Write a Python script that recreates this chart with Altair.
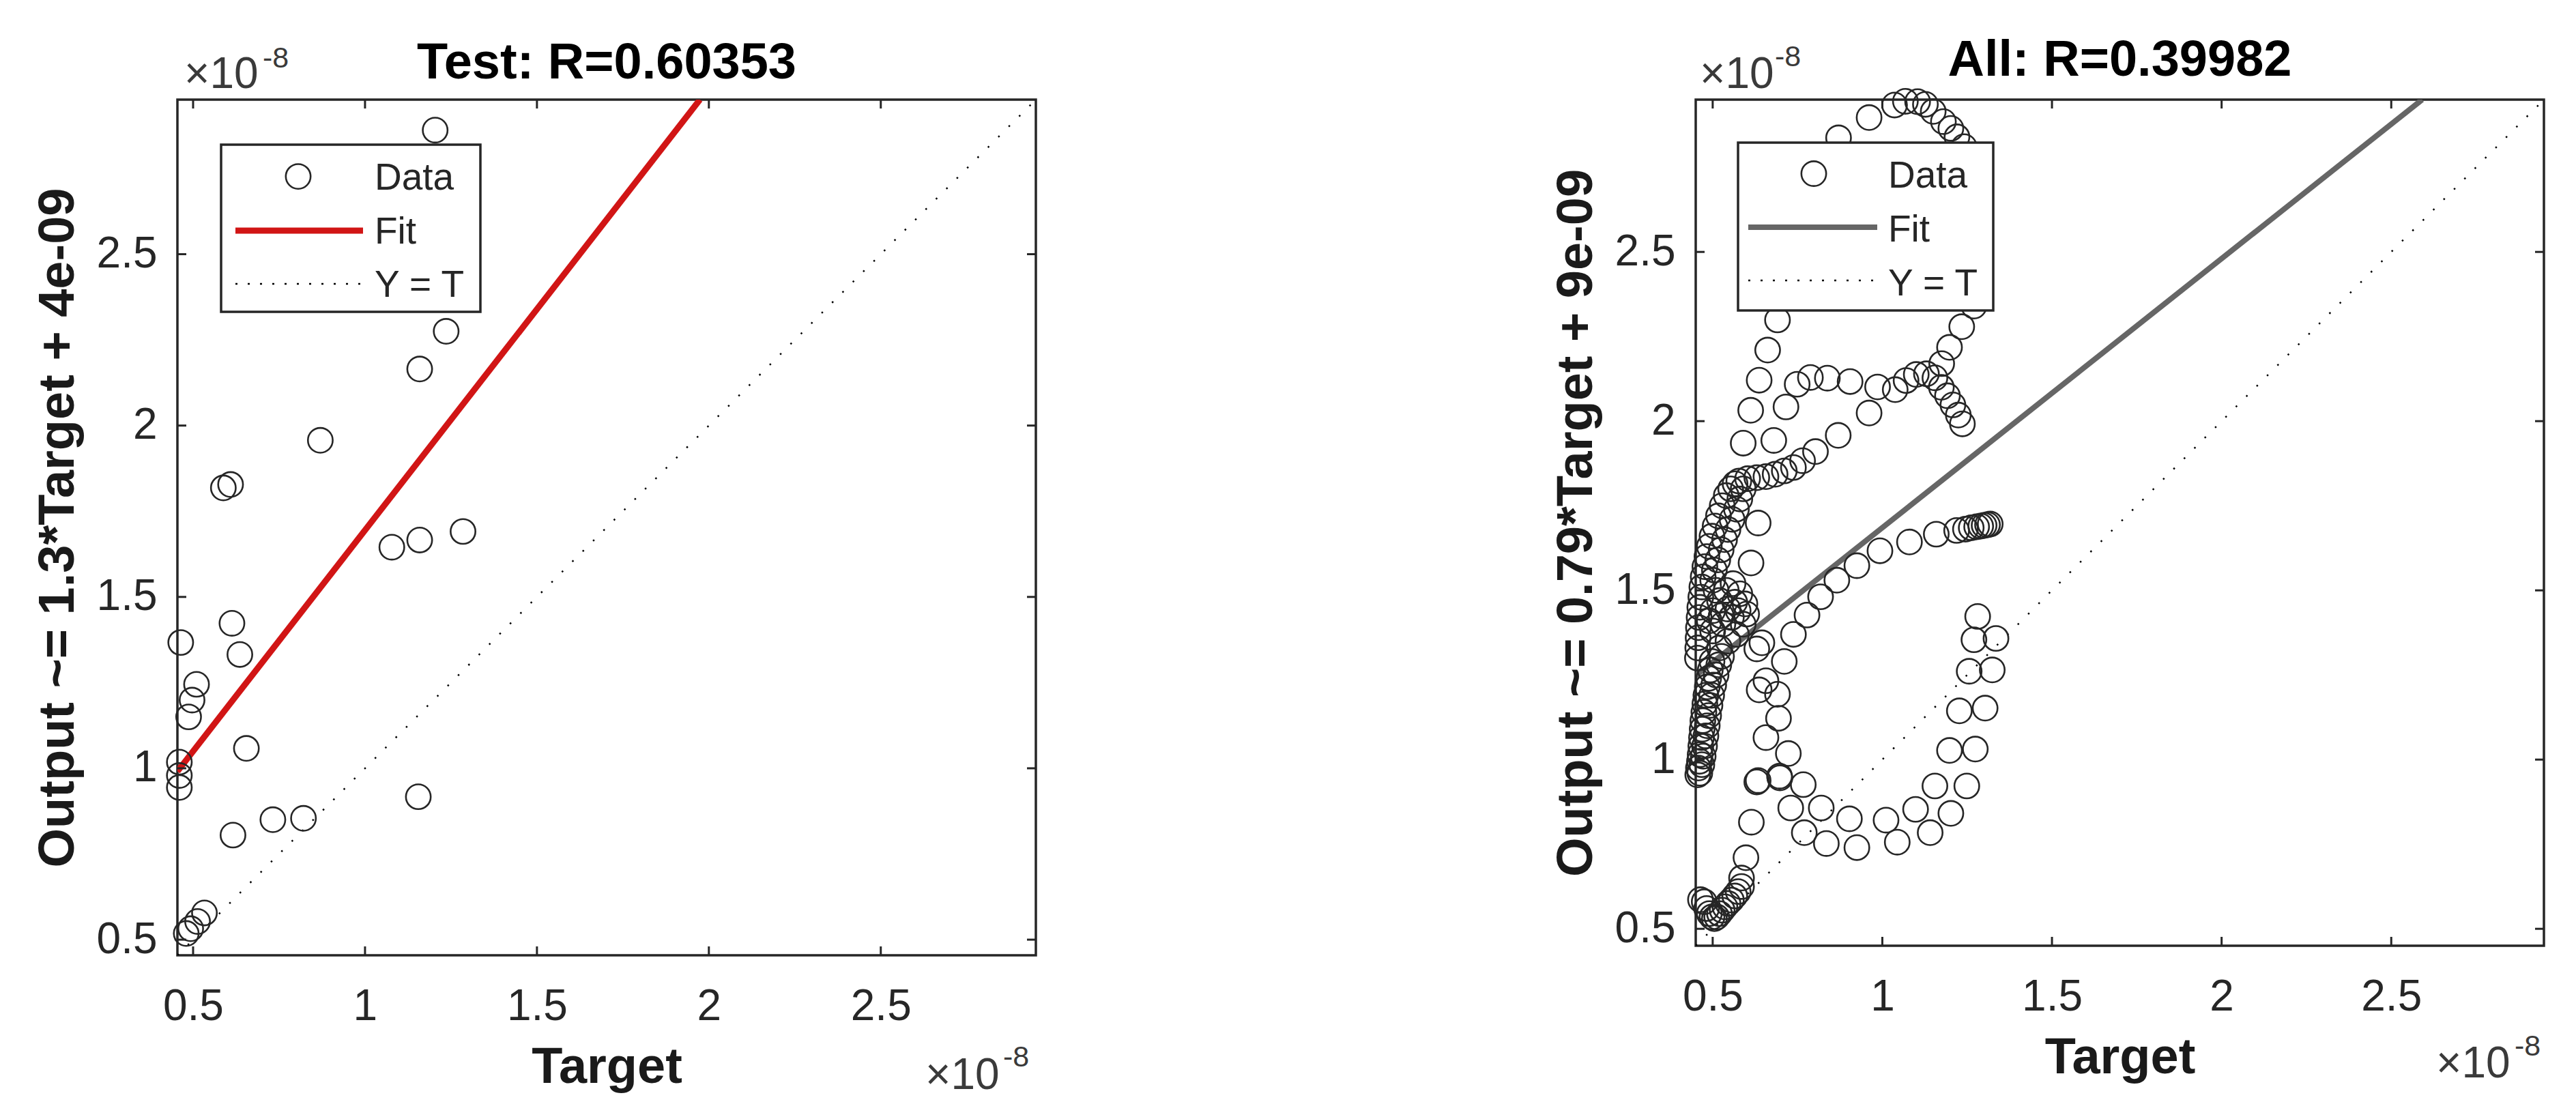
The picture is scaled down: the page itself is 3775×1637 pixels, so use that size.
import altair as alt
import pandas as pd

FONT = "Liberation Sans"
DARK = "#262626"
TICK_VALUES = [0.5, 1.0, 1.5, 2.0, 2.5]

# ---------------- Test panel (values in units of 1e-8) ----------------
test_target = [1.204, 1.236, 1.159, 0.870, 0.588, 0.609, 1.285, 1.159, 1.078,
               0.613, 0.636, 0.464, 0.510, 0.497, 0.487, 0.655, 0.460, 0.460,
               0.460, 0.616, 0.732, 0.821, 1.155, 0.533, 0.513, 0.493, 0.480]
test_output = [2.862, 2.275, 2.165, 1.957, 1.818, 1.828, 1.691, 1.666, 1.645,
               1.423, 1.332, 1.367, 1.245, 1.199, 1.150, 1.058, 1.018, 0.979,
               0.944, 0.805, 0.850, 0.854, 0.917, 0.578, 0.553, 0.532, 0.518]
test_fit_x = [0.4544, 1.974]
test_fit_y = [0.991, 2.951]
test_lim = [0.4544, 2.951]

# ---------------- All panel (values in units of 1e-8) ----------------
all_target = [
    # bottom-left cluster
    0.475, 0.482, 0.490, 0.498, 0.505, 0.512, 0.520, 0.528, 0.536, 0.545, 0.555,
    0.565, 0.575, 0.585, 0.464, 0.585, 0.598, 0.614,
    # lower arc
    0.630, 0.698, 0.767, 0.730, 0.820, 0.770, 0.835, 0.903, 0.925, 1.011, 1.044,
    1.098, 1.141, 1.155, 1.202, 1.249, 1.198, 1.274, 1.227, 1.303, 1.256, 1.324,
    1.270, 1.335, 1.281,
    # middle column
    0.657, 0.723, 0.694, 0.691, 0.637, 0.657, 0.630, 0.711, 0.645, 0.697, 0.634,
    # rising strand
    0.738, 0.778, 0.818, 0.866, 0.925, 0.993, 1.080, 1.159, 1.219, 1.245, 1.262,
    1.278, 1.290, 1.300, 1.310, 1.318,
    # dense cluster, column 1
    0.456, 0.458, 0.461, 0.463, 0.465, 0.467, 0.469, 0.471, 0.474, 0.477, 0.480,
    0.484, 0.488, 0.493, 0.498,
    # dense cluster, column 2
    0.462, 0.468, 0.472, 0.476, 0.480, 0.484, 0.488, 0.492, 0.497, 0.503, 0.510,
    0.518, 0.526,
    # dense cluster, left strand
    0.455, 0.456, 0.457, 0.458, 0.460, 0.462, 0.465, 0.468, 0.472, 0.477, 0.483,
    0.490, 0.498, 0.507, 0.517, 0.528, 0.540, 0.553, 0.566,
    # dense cluster, blob
    0.520, 0.545, 0.570, 0.590, 0.600, 0.595, 0.580, 0.560, 0.540, 0.520, 0.500,
    0.490, 0.500, 0.530, 0.555, 0.575, 0.565, 0.545, 0.525, 0.510, 0.500, 0.505,
    0.515, 0.525, 0.535, 0.545, 0.557, 0.570, 0.580, 0.590,
    # upper band
    0.577, 0.603, 0.630, 0.657, 0.684, 0.711, 0.738, 0.765, 0.803, 0.870, 0.961,
    0.590, 0.680, 0.634, 0.613,
    # middle arc
    0.612, 0.716, 0.749, 0.788, 0.838, 0.905, 0.986, 1.038, 1.070, 1.100, 1.130,
    1.155, 1.174, 1.192, 1.208, 1.224, 1.236,
    # top loop
    0.637, 0.662, 0.691, 0.720, 0.750, 0.780, 0.810, 0.845, 0.871, 0.961, 1.036,
    1.068, 1.104, 1.127, 1.150, 1.180, 1.202, 1.220, 1.241, 1.260, 1.270, 1.275,
    1.278, 1.270, 1.234, 1.198, 1.175,
]
all_output = [
    0.580, 0.560, 0.545, 0.535, 0.530, 0.535, 0.545, 0.555, 0.565, 0.575, 0.585,
    0.597, 0.610, 0.625, 0.586, 0.650, 0.710, 0.815,
    0.934, 0.946, 0.926, 0.857, 0.857, 0.784, 0.752, 0.825, 0.740, 0.821, 0.756,
    0.853, 0.784, 0.922, 0.841, 0.922, 1.027, 1.031, 1.144, 1.152, 1.261, 1.265,
    1.354, 1.358, 1.423,
    1.065, 1.018, 1.122, 1.193, 1.206, 1.233, 1.327, 1.290, 1.345, 0.951, 0.938,
    1.370, 1.427, 1.481, 1.530, 1.573, 1.617, 1.643, 1.666, 1.677, 1.681, 1.685,
    1.688, 1.690, 1.692, 1.694, 1.696,
    0.955, 0.975, 0.995, 1.015, 1.040, 1.065, 1.090, 1.115, 1.140, 1.165, 1.190,
    1.215, 1.240, 1.265, 1.290,
    0.960, 0.985, 1.010, 1.040, 1.070, 1.100, 1.130, 1.160, 1.190, 1.220, 1.250,
    1.280, 1.305,
    1.300, 1.330, 1.360, 1.390, 1.420, 1.450, 1.480, 1.510, 1.540, 1.570, 1.600,
    1.630, 1.660, 1.690, 1.720, 1.750, 1.780, 1.800, 1.815,
    1.330, 1.350, 1.370, 1.400, 1.430, 1.460, 1.490, 1.520, 1.500, 1.470, 1.440,
    1.410, 1.380, 1.400, 1.420, 1.440, 1.465, 1.445, 1.425, 1.500, 1.530, 1.560,
    1.590, 1.620, 1.650, 1.680, 1.710, 1.740, 1.770, 1.800,
    1.823, 1.830, 1.833, 1.836, 1.843, 1.853, 1.863, 1.883, 1.910, 1.958, 2.024,
    1.935, 1.943, 1.699, 1.581,
    2.032, 2.042, 2.109, 2.129, 2.127, 2.117, 2.101, 2.093, 2.120, 2.138, 2.140,
    2.128, 2.100, 2.075, 2.048, 2.018, 1.992,
    2.121, 2.210, 2.299, 2.400, 2.500, 2.600, 2.700, 2.780, 2.837, 2.897, 2.934,
    2.945, 2.944, 2.936, 2.915, 2.885, 2.865, 2.840, 2.811, 2.720, 2.620, 2.520,
    2.420, 2.340, 2.279, 2.218, 2.170,
]
all_fit_x = [0.450, 2.591]
all_fit_y = [1.248, 2.950]
all_lim = [0.450, 2.950]


def panel(tx, ty, fx, fy, lim, w, h, fit_color, fit_width, title, ytitle,
          title_y, leg, exp_top, exp_bot):
    lo, hi = lim
    xs = alt.Scale(domain=[lo, hi], nice=False, zero=False)
    ys = alt.Scale(domain=[lo, hi], nice=False, zero=False)
    xaxis = alt.Axis(values=TICK_VALUES, format=".1~f", ticks=False, tickSize=0,
                     domain=False, grid=False, labelFont=FONT, labelFontSize=64,
                     labelColor=DARK, labelPadding=43, labelFlush=False,
                     labelOverlap=False, title="Target", titleFont=FONT,
                     titleFontSize=74, titleFontWeight="bold", titleColor="#1a1a1a",
                     titleX=w / 2, titleY=186, titleAlign="center",
                     titleBaseline="alphabetic", titleAngle=0)
    yaxis = alt.Axis(values=TICK_VALUES, format=".1~f", ticks=False, tickSize=0,
                     domain=False, grid=False, labelFont=FONT, labelFontSize=64,
                     labelColor=DARK, labelPadding=30, labelFlush=False,
                     labelOverlap=False, title=ytitle, titleFont=FONT,
                     titleFontSize=74, titleFontWeight="bold", titleColor="#1a1a1a",
                     titleX=-153, titleY=h / 2, titleAngle=270, titleAlign="center",
                     titleBaseline="alphabetic")

    X = lambda: alt.X("x:Q", scale=xs, axis=xaxis)
    Y = lambda: alt.Y("y:Q", scale=ys, axis=yaxis)

    diag = alt.Chart(pd.DataFrame({"x": [lo, hi], "y": [lo, hi]})).mark_line(
        color="black", strokeWidth=2.5, strokeDash=[2.5, 19], clip=True
    ).encode(x=X(), y=Y())
    fit = alt.Chart(pd.DataFrame({"x": fx, "y": fy})).mark_line(
        color=fit_color, strokeWidth=fit_width, clip=True
    ).encode(x=X(), y=Y())
    points = alt.Chart(pd.DataFrame({"x": tx, "y": ty})).mark_point(
        shape="circle", filled=False, size=1320, strokeWidth=2.6, color=DARK,
        opacity=1
    ).encode(x=X(), y=Y())

    tk = pd.DataFrame({"x": TICK_VALUES, "y": TICK_VALUES})
    tstyle = dict(color=DARK, thickness=3, size=13, opacity=1)
    tick_b = alt.Chart(tk).mark_tick(**tstyle).encode(x=X(), y=alt.value(h - 6.5))
    tick_t = alt.Chart(tk).mark_tick(**tstyle).encode(x=X(), y=alt.value(6.5))
    tick_l = alt.Chart(tk).mark_tick(**tstyle).encode(y=Y(), x=alt.value(6.5))
    tick_r = alt.Chart(tk).mark_tick(**tstyle).encode(y=Y(), x=alt.value(w - 6.5))

    one = pd.DataFrame({"a": [0]})
    L, R, T, B, cx, cy, lx0, lx1, fit_ly, dot_ly, txt_x, b1, b2, b3 = leg
    box = alt.Chart(one).mark_rect(fill="white", stroke=DARK, strokeWidth=3.5).encode(
        x=alt.value(L), x2=alt.value(R), y=alt.value(T), y2=alt.value(B))
    sym = alt.Chart(one).mark_point(shape="circle", filled=False, size=1320,
                                    strokeWidth=2.6, color=DARK, opacity=1).encode(
        x=alt.value(cx), y=alt.value(cy))
    fitl = alt.Chart(one).mark_rule(color=fit_color, strokeWidth=fit_width).encode(
        x=alt.value(lx0), x2=alt.value(lx1), y=alt.value(fit_ly))
    dotl = alt.Chart(one).mark_rule(color="black", strokeWidth=2.5,
                                    strokeDash=[3, 15]).encode(
        x=alt.value(lx0), x2=alt.value(lx1), y=alt.value(dot_ly))

    def txt(s, x, y, size, weight="normal", align="left", color=DARK):
        return alt.Chart(one).mark_text(text=s, font=FONT, fontSize=size,
                                        fontWeight=weight, align=align,
                                        baseline="alphabetic", color=color).encode(
            x=alt.value(x), y=alt.value(y))

    t1 = txt("Data", txt_x, b1, 55)
    t2 = txt("Fit", txt_x, b2, 55)
    t3 = txt("Y = T", txt_x, b3, 55)
    ttl = txt(title, w / 2, title_y, 74, weight="bold", align="center", color="black")
    e1 = txt("\u00d710", exp_top[0], -17, 64, color="#3a3a3a")
    e2 = txt("-8", exp_top[1], exp_top[2], 43, color="#3a3a3a")
    e3 = txt("\u00d710", w - exp_bot[0], h + exp_bot[2], 64, color="#3a3a3a")
    e4 = txt("-8", w - exp_bot[1], h + exp_bot[3], 43, color="#3a3a3a")

    return alt.layer(diag, fit, points, tick_b, tick_t, tick_l, tick_r,
                     box, sym, fitl, dotl, t1, t2, t3, ttl, e1, e2, e3, e4
                     ).properties(width=w, height=h)


left = panel(test_target, test_output, test_fit_x, test_fit_y, test_lim,
             1258, 1254, "#d11515", 9, "Test: R=0.60353",
             "Output ~= 1.3*Target + 4e-09", -31,
             (64, 444, 66, 311, 177, 112.6, 85, 272, 192, 270, 289, 131.7, 211, 289),
             (10, 125, -47), (162, 48, 196, 163))
right = panel(all_target, all_output, all_fit_x, all_fit_y, all_lim,
              1243, 1240, "#666666", 8, "All: R=0.39982",
              "Output ~= 0.79*Target + 9e-09", -35,
              (62, 436, 63, 309, 173, 108.5, 77, 266, 187, 265, 282, 128.6, 208, 287),
              (6, 116, -49), (158, 43, 193, 161))

chart = alt.hconcat(left, right, spacing=751).properties(
    padding={"left": 38, "top": 42, "right": 5, "bottom": 5}
).configure_view(stroke=DARK, strokeWidth=3.5)

chart.save("out.html", embed_options={"renderer": "svg", "actions": False})
